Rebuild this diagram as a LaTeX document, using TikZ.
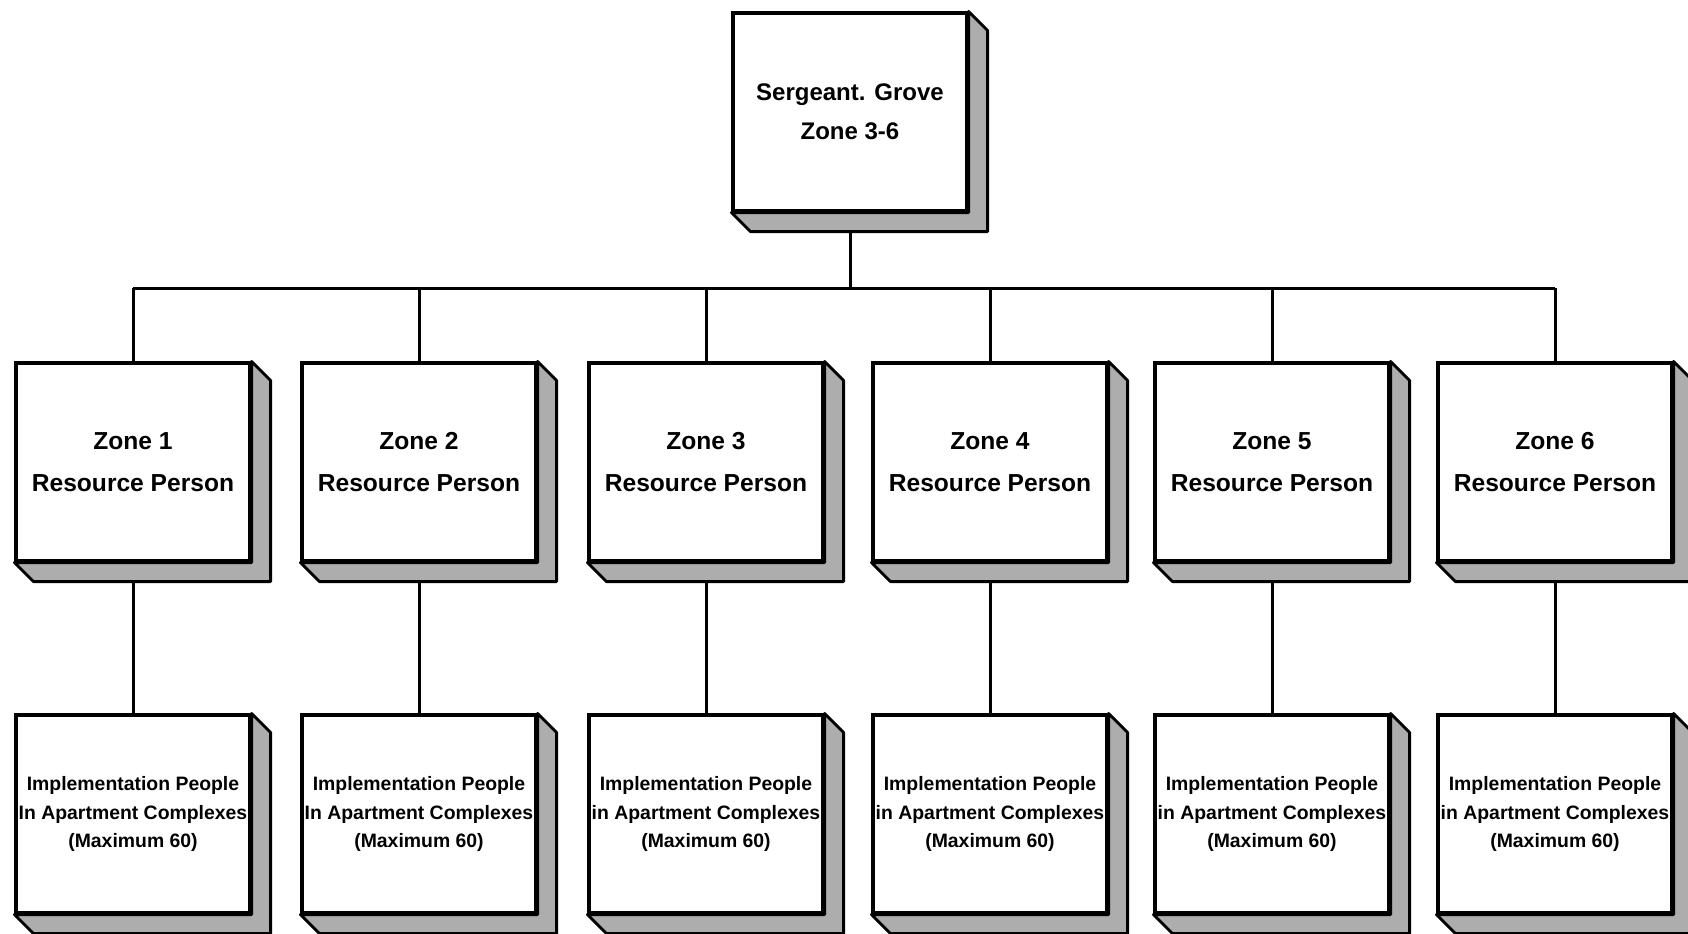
\documentclass[tikz,border=0pt]{standalone}
\usepackage{fontspec}
\setmainfont{Liberation Sans}
\begin{document}
\begin{tikzpicture}[x=0.5pt,y=-0.5pt,
  box/.style={draw, line width=1.6pt, fill=white, minimum width=117pt, minimum height=99pt, inner sep=0pt, align=center},
  shadowface/.style={draw, line width=1.4pt, fill=black!32, line join=round},
  conn/.style={line width=1.5pt},
  topfont/.style={font=\bfseries\fontsize{12}{19.5}\selectfont},
  zonefont/.style={font=\bfseries\fontsize{12.3}{21}\selectfont},
  implfont/.style={font=\bfseries\fontsize{9.7}{14.25}\selectfont}]
\useasboundingbox (0,0) rectangle (1688,933);
\node[box, topfont] (top) at (850,112) {Sergeant. Grove\\Zone 3-6};
\foreach \i/\x/\w in {1/133/In,2/419/In,3/706/in,4/990/in,5/1272/in,6/1555/in} {
  \node[box, zonefont] (z\i) at (\x,462) {Zone \i\\Resource Person};
  \node[box, implfont] (b\i) at (\x,814) {Implementation People\\\w{} Apartment Complexes\\(Maximum 60)};
}
\coordinate (bus) at (850,288);
\draw[conn] (top.south) -- (bus);
\draw[conn] (z1.north |- bus) -- (z6.north |- bus);
\foreach \i in {1,...,6} {
  \draw[conn] (z\i.north |- bus) -- (z\i.north);
  \draw[conn] (z\i.south) -- (b\i.north);
}
\foreach \n in {top,z1,z2,z3,z4,z5,z6,b1,b2,b3,b4,b5,b6} {
  \draw[shadowface] (\n.north east) -- ++(19,19) -- ([shift={(19,19)}]\n.south east)
    -- ([shift={(19,19)}]\n.south west) -- (\n.south west) -- (\n.south east) -- cycle;
}
\end{tikzpicture}
\end{document}
